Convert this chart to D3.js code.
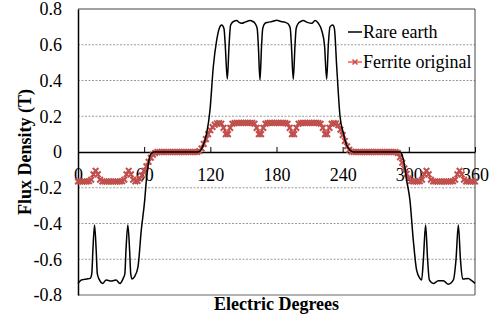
<!DOCTYPE html>
<html lang="en">
<head>
<meta charset="UTF-8">
<title>Flux Density</title>
<script src="https://d3js.org/d3.v7.min.js"></script>
<style>
  body { margin: 0; background: #fff; }
</style>
</head>
<body>
<script>
// x ticks / y ticks
var xTicks = [0, 60, 120, 180, 240, 300, 360];
var yTicks = [-0.8, -0.6, -0.4, -0.2, 0, 0.2, 0.4, 0.6, 0.8];
var gridTicks = [-0.6, -0.4, -0.2, 0.2, 0.4, 0.6];

// Rare earth: degrees and flux density (T)
var rareDeg = [0, 3, 8, 11, 12.5, 13.5, 15, 16.5, 17.5, 19, 22.5, 25.5, 30, 34.5, 38, 41, 42.5, 43.5, 45.2, 46.8, 47.8, 49,
  51.3, 54.4, 57.4, 60.5, 62, 63.5, 65, 67, 69, 108, 110.6, 113, 116.7, 119.7, 122.7, 125.8, 128, 130.3, 132.4, 133.5,
  135.4, 137, 138.4, 141, 143.9, 146, 148.4, 152, 156, 158.5, 160.5, 162.5, 163.5, 165, 166.5, 167.5, 169.6, 172, 176,
  180.2, 184, 188, 190.7, 192.5, 193.5, 195.2, 196.8, 197.8, 199.8, 202, 204.3, 208, 212, 215, 217.9, 221, 223.5, 225.5,
  227, 228.5, 231, 232.5, 234.6, 237.6, 240.7, 243.5, 246.7, 250, 292, 294, 296, 298, 301, 304, 307, 310, 311.6, 313.2,
  315.2, 317, 318.6, 322.2, 326.8, 331.3, 335.8, 340.4, 342.8, 344.9, 346.8, 348.8, 353.9, 357, 360];
var rareFlux = [-0.735, -0.716, -0.71, -0.707, -0.68, -0.55, -0.408, -0.55, -0.68, -0.71, -0.735, -0.716, -0.722, -0.716, -0.735, -0.707, -0.68, -0.55, -0.408, -0.55, -0.68, -0.71,
  -0.697, -0.642, -0.436, -0.269, -0.157, -0.08, -0.026, -0.005, 0, 0, 0.005, 0.03, 0.105, 0.235, 0.477, 0.627, 0.69, 0.71, 0.69, 0.6,
  0.408, 0.6, 0.71, 0.73, 0.735, 0.725, 0.72, 0.728, 0.735, 0.73, 0.72, 0.69, 0.6, 0.403, 0.6, 0.69, 0.72, 0.725, 0.73,
  0.737, 0.73, 0.725, 0.716, 0.69, 0.6, 0.407, 0.6, 0.69, 0.72, 0.73, 0.735, 0.725, 0.72, 0.735, 0.72, 0.68, 0.6, 0.407,
  0.6, 0.7, 0.71, 0.69, 0.477, 0.2, 0.105, 0.04, 0.01, 0, 0, -0.02, -0.07, -0.157, -0.269, -0.49, -0.66, -0.707, -0.716, -0.6,
  -0.408, -0.6, -0.716, -0.735, -0.72, -0.72, -0.74, -0.716, -0.6, -0.408, -0.6, -0.71, -0.707, -0.72, -0.735];

// Ferrite original: one value every 2 degrees, 0..360
var ferriteStep = 2;
var ferriteFlux = [
  -0.165, -0.165, -0.165, -0.165, -0.165, -0.163, -0.155, -0.125, -0.105, -0.125,
  -0.155, -0.165, -0.165, -0.165, -0.165, -0.165, -0.165, -0.165, -0.165, -0.165,
  -0.163, -0.155, -0.125, -0.105, -0.125, -0.155, -0.165, -0.162, -0.15, -0.13,
  -0.105, -0.08, -0.055, -0.032, -0.015, -0.005, 0, 0, 0, 0,
  0, 0, 0, 0, 0, 0, 0, 0, 0, 0,
  0, 0, 0, 0, 0, 0.005, 0.02, 0.045, 0.072, 0.1,
  0.122, 0.14, 0.152, 0.16, 0.162, 0.158, 0.135, 0.1, 0.1, 0.135,
  0.158, 0.162, 0.163, 0.162, 0.162, 0.163, 0.163, 0.162, 0.162, 0.163,
  0.158, 0.135, 0.1, 0.1, 0.135, 0.158, 0.162, 0.163, 0.162, 0.162,
  0.163, 0.162, 0.162, 0.163, 0.162, 0.158, 0.135, 0.1, 0.1, 0.135,
  0.158, 0.162, 0.163, 0.162, 0.162, 0.163, 0.162, 0.162, 0.163, 0.162,
  0.158, 0.135, 0.1, 0.1, 0.135, 0.158, 0.162, 0.16, 0.15, 0.125,
  0.095, 0.062, 0.032, 0.012, 0.002, 0, 0, 0, 0, 0,
  0, 0, 0, 0, 0, 0, 0, 0, 0, 0,
  0, 0, 0, 0, 0, -0.005, -0.03, -0.06, -0.092, -0.122,
  -0.148, -0.162, -0.165, -0.165, -0.165, -0.163, -0.155, -0.125, -0.105, -0.125,
  -0.155, -0.165, -0.165, -0.165, -0.165, -0.165, -0.165, -0.165, -0.165, -0.165,
  -0.163, -0.155, -0.125, -0.105, -0.125, -0.155, -0.165, -0.165, -0.165, -0.165,
  -0.165
];

var seriesNames = ["Rare earth", "Ferrite original"];

var serif = "'Liberation Serif', 'DejaVu Serif', 'Times New Roman', Times, serif";

var width = 501, height = 320;
var margin = { left: 78, right: 26, top: 9, bottom: 25 };

var svg = d3.select("body").append("svg")
  .attr("width", width)
  .attr("height", height)
  .style("font-family", serif);

var x = d3.scaleLinear().domain([0, 360]).range([margin.left, width - margin.right]);
var y = d3.scaleLinear().domain([-0.8, 0.8]).range([height - margin.bottom, margin.top]);

// dashed grid
svg.append("g")
  .selectAll("line")
  .data(gridTicks)
  .enter().append("line")
  .attr("x1", x(0)).attr("x2", x(360))
  .attr("y1", function(d) { return y(d); })
  .attr("y2", function(d) { return y(d); })
  .attr("stroke", "#9a9a9a")
  .attr("stroke-width", 1)
  .attr("stroke-dasharray", "2,1.5");

// frame: top, right, bottom
svg.append("line").attr("x1", x(0)).attr("x2", x(360)).attr("y1", y(0.8)).attr("y2", y(0.8))
  .attr("stroke", "#444").attr("stroke-width", 1);
svg.append("line").attr("x1", x(360)).attr("x2", x(360)).attr("y1", y(0.8)).attr("y2", y(-0.8))
  .attr("stroke", "#444").attr("stroke-width", 1);
svg.append("line").attr("x1", x(0)).attr("x2", x(360)).attr("y1", y(-0.8)).attr("y2", y(-0.8))
  .attr("stroke", "#666").attr("stroke-width", 1);

// y axis
var yAxis = d3.axisLeft(y).tickValues(yTicks).tickSize(0).tickPadding(16)
  .tickFormat(function(d) { return d === 0 ? "0" : d3.format(".1f")(d).replace("\u2212", "-"); });
var gy = svg.append("g").attr("transform", "translate(" + x(0) + ",0)").call(yAxis);
gy.attr("font-family", null).attr("font-size", null);
gy.select(".domain").attr("stroke", "#000").attr("stroke-width", 1.5);
gy.selectAll("text").style("font-size", "18px").style("font-family", serif);

// x axis on the zero line, ticks pointing up
var xAxis = d3.axisTop(x).tickValues(xTicks).tickSizeInner(5).tickSizeOuter(0).tickFormat(d3.format("d"));
var gx = svg.append("g").attr("transform", "translate(0," + y(0) + ")").call(xAxis);
gx.attr("font-family", null).attr("font-size", null);
gx.select(".domain").attr("stroke", "#000").attr("stroke-width", 1.5);
gx.selectAll(".tick line").attr("stroke", "#000");
gx.selectAll("text")
  .attr("y", 29)
  .attr("dy", 0)
  .style("font-size", "18px")
  .style("font-family", serif);

// Ferrite original: red line, dense x markers drawn over it
var ferrite = ferriteFlux.map(function(v, i) { return { deg: i * ferriteStep, val: v }; });
var redLine = d3.line()
  .x(function(d) { return x(d.deg); })
  .y(function(d) { return y(d.val); });

svg.append("path")
  .datum(ferrite)
  .attr("d", redLine)
  .attr("fill", "none")
  .attr("stroke", "#ff0000")
  .attr("stroke-width", 1);

var marker = "M-2.8,-2.8L2.8,2.8M-2.8,2.8L2.8,-2.8";

svg.append("g")
  .selectAll("path")
  .data(ferrite)
  .enter().append("path")
  .attr("transform", function(d) { return "translate(" + x(d.deg) + "," + y(d.val) + ")"; })
  .attr("d", marker)
  .attr("stroke", "#c0504d")
  .attr("stroke-width", 2)
  .attr("fill", "none");

// Rare earth: black line
var rare = rareDeg.map(function(d, i) { return { deg: d, val: rareFlux[i] }; });
var blackLine = d3.line()
  .curve(d3.curveMonotoneX)
  .x(function(d) { return x(d.deg); })
  .y(function(d) { return y(d.val); });

svg.append("path")
  .datum(rare)
  .attr("d", blackLine)
  .attr("fill", "none")
  .attr("stroke", "#000")
  .attr("stroke-width", 1.5);

// legend
var legend = svg.append("g").attr("transform", "translate(348,32)");
legend.append("line").attr("x1", 0).attr("x2", 14).attr("y1", 0).attr("y2", 0)
  .attr("stroke", "#000").attr("stroke-width", 1.5);
legend.append("text").attr("x", 15).attr("y", 6).style("font-size", "18px").text(seriesNames[0]);
legend.append("line").attr("x1", 0).attr("x2", 14).attr("y1", 30).attr("y2", 30)
  .attr("stroke", "#ff0000").attr("stroke-width", 1);
legend.append("path").attr("transform", "translate(7,30)").attr("d", "M-2.5,-2.5L2.5,2.5M-2.5,2.5L2.5,-2.5")
  .attr("stroke", "#c0504d").attr("stroke-width", 1.5).attr("fill", "none");
legend.append("text").attr("x", 15).attr("y", 36).style("font-size", "18px").text(seriesNames[1]);

// axis titles
svg.append("text")
  .attr("x", x(180)).attr("y", 310)
  .attr("text-anchor", "middle")
  .style("font-size", "18px").style("font-weight", "bold")
  .text("Electric Degrees");

svg.append("text")
  .attr("transform", "translate(31," + y(0) + ") rotate(-90)")
  .attr("text-anchor", "middle")
  .style("font-size", "18px").style("font-weight", "bold")
  .text("Flux Density (T)");
</script>
</body>
</html>
